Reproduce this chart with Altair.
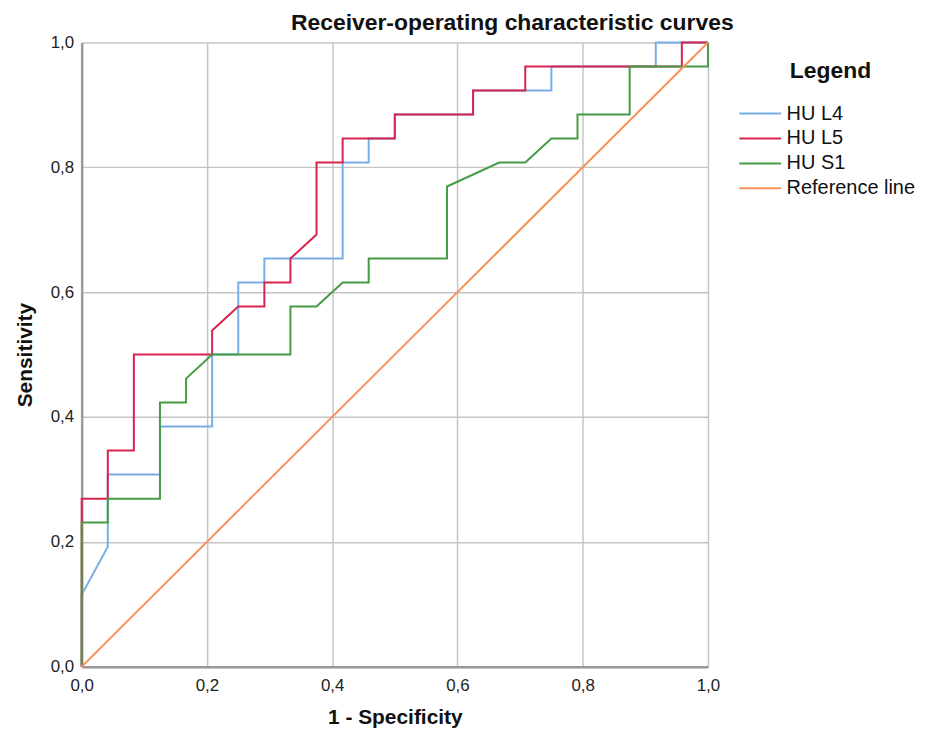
import altair as alt
import pandas as pd

series_names = ["HU L4", "HU L5", "HU S1", "Reference line"]
colors = ["#78aee8", "#d9234f", "#459c45", "#f7935a"]

# ROC curve vertices (1 - specificity, sensitivity)
l4_x = [0.0, 0.0, 0.0417, 0.0417, 0.125, 0.125, 0.2083, 0.2083, 0.25, 0.25, 0.2917, 0.2917,
        0.4167, 0.4167, 0.4583, 0.4583, 0.5, 0.5, 0.625, 0.625, 0.75, 0.75, 0.9167, 0.9167, 1.0]
l4_y = [0.0, 0.1154, 0.1923, 0.3077, 0.3077, 0.3846, 0.3846, 0.5, 0.5, 0.6154, 0.6154, 0.6538,
        0.6538, 0.8077, 0.8077, 0.8462, 0.8462, 0.8846, 0.8846, 0.9231, 0.9231, 0.9615, 0.9615, 1.0, 1.0]

l5_x = [0.0, 0.0, 0.0417, 0.0417, 0.0833, 0.0833, 0.2083, 0.2083, 0.25, 0.2917, 0.2917, 0.3333,
        0.3333, 0.375, 0.375, 0.4167, 0.4167, 0.5, 0.5, 0.625, 0.625, 0.7083, 0.7083, 0.9583, 0.9583, 1.0]
l5_y = [0.0, 0.2692, 0.2692, 0.3462, 0.3462, 0.5, 0.5, 0.5385, 0.5769, 0.5769, 0.6154, 0.6154,
        0.6538, 0.6923, 0.8077, 0.8077, 0.8462, 0.8462, 0.8846, 0.8846, 0.9231, 0.9231, 0.9615, 0.9615, 1.0, 1.0]

s1_x = [0.0, 0.0, 0.0417, 0.0417, 0.125, 0.125, 0.1667, 0.1667, 0.2083, 0.3333, 0.3333, 0.375,
        0.4167, 0.4583, 0.4583, 0.5833, 0.5833, 0.6667, 0.7083, 0.75, 0.7917, 0.7917, 0.875, 0.875,
        1.0, 1.0]
s1_y = [0.0, 0.2308, 0.2308, 0.2692, 0.2692, 0.4231, 0.4231, 0.4615, 0.5, 0.5, 0.5769, 0.5769,
        0.6154, 0.6154, 0.6538, 0.6538, 0.7692, 0.8077, 0.8077, 0.8462, 0.8462, 0.8846, 0.8846, 0.9615,
        0.9615, 1.0]

ref_x = [0.0, 1.0]
ref_y = [0.0, 1.0]

tick_values = [0, 0.2, 0.4, 0.6, 0.8, 1.0]

rows = []
for name, xs, ys in [("HU L4", l4_x, l4_y), ("HU L5", l5_x, l5_y),
                     ("HU S1", s1_x, s1_y), ("Reference line", ref_x, ref_y)]:
    for i, (a, b) in enumerate(zip(xs, ys)):
        rows.append({"series": name, "order": i, "x": a, "y": b})
df = pd.DataFrame(rows)

label_expr = "replace(format(datum.value, '.1f'), '.', ',')"

chart = alt.Chart(df).mark_line(strokeWidth=2).encode(
    x=alt.X("x:Q", scale=alt.Scale(domain=[0, 1], nice=False),
            axis=alt.Axis(title="1 - Specificity", values=tick_values, labelFlush=False,
                          labelExpr=label_expr, titlePadding=13, labelPadding=11)),
    y=alt.Y("y:Q", scale=alt.Scale(domain=[0, 1], nice=False),
            axis=alt.Axis(title="Sensitivity", values=tick_values, labelFlush=False,
                          labelExpr=label_expr, titlePadding=15, labelPadding=8)),
    color=alt.Color("series:N", scale=alt.Scale(domain=series_names, range=colors),
                    legend=alt.Legend(title="Legend", orient="none", legendX=668, legendY=18,
                                      symbolType="M-1.68,0H1.68", symbolSize=625,
                                      symbolStrokeWidth=2,
                                      labelFontSize=20, titleFontSize=23, titleFontWeight="bold",
                                      labelFont="Liberation Sans", titleFont="Liberation Sans",
                                      labelColor="#111", titleColor="#111",
                                      rowPadding=1, titlePadding=17, titleAnchor="middle",
                                      labelOffset=13)),
    order="order:Q",
).properties(
    width=629, height=627,
    title=alt.TitleParams("Receiver-operating characteristic curves", fontSize=23,
                          font="Liberation Sans", fontWeight="bold", color="#111",
                          anchor="middle", frame="group", dx=118, dy=2, offset=0),
    autosize=alt.AutoSizeParams(type="none"),
    padding={"left": 74, "top": 33, "right": 220, "bottom": 62},
).configure_view(
    stroke=None
).configure_axis(
    domainColor="#999999", domainWidth=2.5, gridColor="#c4c4c4", gridWidth=1.5,
    ticks=False, labelFontSize=17, labelFont="Liberation Sans",
    labelColor="#222", titleFontSize=21, titleFont="Liberation Sans", titleFontWeight="bold",
    titleColor="#111"
)

chart.save("out.html", embed_options={"renderer": "svg", "actions": False})
